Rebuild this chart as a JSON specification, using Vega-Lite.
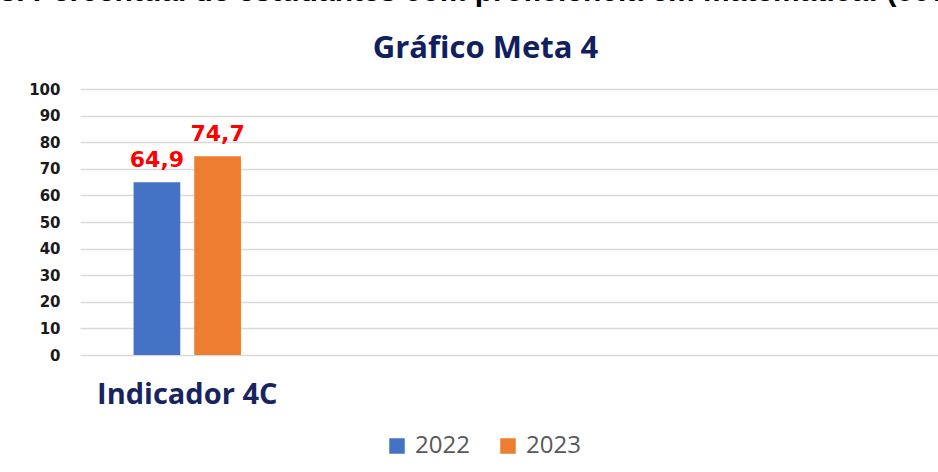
{
  "$schema": "https://vega.github.io/schema/vega-lite/v6.json",
  "autosize": {"type": "none"},
  "padding": {"left": 80, "top": 89, "right": 0, "bottom": 117},
  "width": 858,
  "height": 266,
  "background": "white",
  "data": {
    "values": [
      {"indicador": "Indicador 4C", "ano": "2022", "valor": 64.9},
      {"indicador": "Indicador 4C", "ano": "2023", "valor": 74.7}
    ]
  },
  "encoding": {
    "x": {
      "field": "indicador",
      "type": "nominal",
      "scale": {
        "domain": ["Indicador 4C", " ", "  ", "   "],
        "paddingInner": 0.375,
        "paddingOuter": 0.1875,
        "align": 0.5
      },
      "axis": {
        "values": ["Indicador 4C"],
        "labelAngle": 0,
        "labelLimit": 0,
        "labelFont": "Open Sans",
        "labelFontWeight": "bold",
        "labelFontSize": 29,
        "labelColor": "#17245f",
        "labelBaseline": "alphabetic",
        "labelPadding": 48,
        "ticks": false,
        "tickSize": 0,
        "domain": false,
        "grid": false,
        "title": "3. Percentual de estudantes com proficiência em matemática: (50%)",
        "titleFont": "Liberation Sans",
        "titleFontWeight": "bold",
        "titleFontSize": 30,
        "titleColor": "#000000",
        "titleAnchor": "start",
        "titleAlign": "left",
        "titleBaseline": "alphabetic",
        "titleLimit": 0,
        "titleX": -81,
        "titleY": -355
      }
    },
    "xOffset": {
      "field": "ano",
      "type": "nominal",
      "scale": {"paddingInner": 0.23, "paddingOuter": 0.22}
    },
    "y": {
      "field": "valor",
      "type": "quantitative",
      "scale": {"domain": [0, 100], "nice": false},
      "axis": {
        "values": [0, 10, 20, 30, 40, 50, 60, 70, 80, 90, 100],
        "grid": true,
        "gridColor": "#d9d9d9",
        "gridWidth": 1.5,
        "domain": false,
        "ticks": false,
        "tickSize": 0,
        "labelFont": "DejaVu Sans",
        "labelFontWeight": "bold",
        "labelFontSize": 15,
        "labelColor": "#1a1a1a",
        "labelPadding": 20,
        "title": "Gráfico Meta 4",
        "titleAngle": 0,
        "titleX": 405,
        "titleY": -32,
        "titleAlign": "center",
        "titleBaseline": "alphabetic",
        "titleFont": "Open Sans",
        "titleFontWeight": "bold",
        "titleFontSize": 31,
        "titleColor": "#10205e"
      }
    }
  },
  "layer": [
    {
      "mark": {"type": "bar"},
      "encoding": {
        "color": {
          "field": "ano",
          "type": "nominal",
          "scale": {"domain": ["2022", "2023"], "range": ["#4472c4", "#ed7d31"]},
          "legend": {
            "title": null,
            "orient": "none",
            "direction": "horizontal",
            "legendX": 305,
            "legendY": 345,
            "symbolType": "square",
            "symbolSize": 240,
            "symbolStrokeWidth": 0,
            "labelFont": "Open Sans",
            "labelFontSize": 24,
            "labelColor": "#595959",
            "labelOffset": 6,
            "columnPadding": 26
          }
        }
      }
    },
    {
      "mark": {
        "type": "text",
        "font": "DejaVu Sans",
        "fontWeight": "bold",
        "fontSize": 22,
        "color": "#ff0000",
        "baseline": "alphabetic",
        "align": "center",
        "dy": -15
      },
      "encoding": {
        "text": {"field": "valor", "type": "quantitative", "format": ".1f"}
      }
    }
  ],
  "config": {
    "view": {"stroke": null},
    "locale": {
      "number": {"decimal": ",", "thousands": ".", "grouping": [3], "currency": ["R$", ""]}
    }
  }
}
